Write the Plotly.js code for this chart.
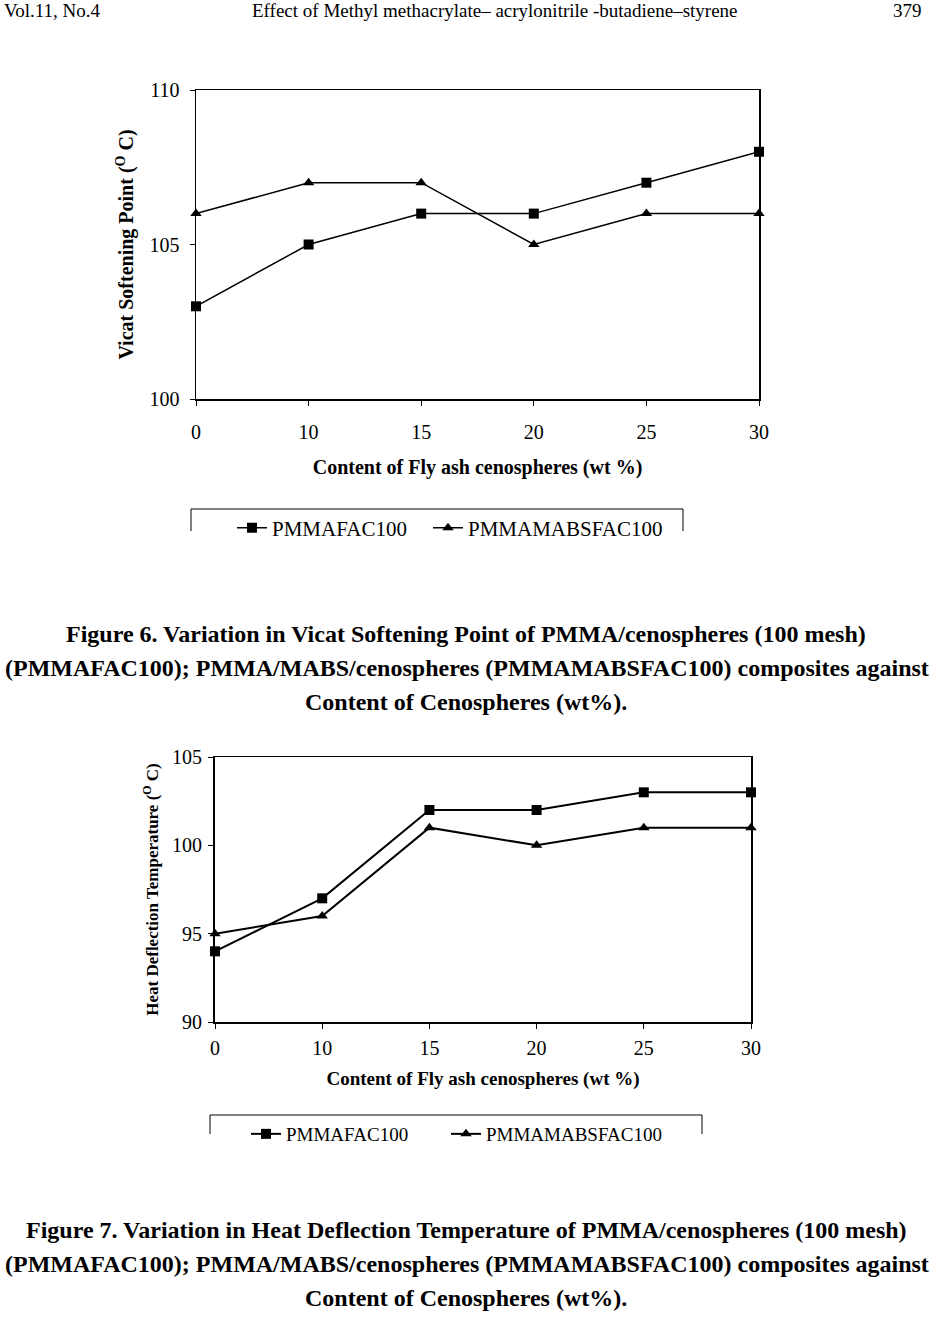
<!DOCTYPE html>
<html>
<head>
<meta charset="utf-8">
<script src="https://cdn.plot.ly/plotly-3.0.1.min.js"></script>
<style>
html,body{margin:0;padding:0;background:#fff;}
#chart{width:932px;height:1329px;}
</style>
</head>
<body>
<div id="chart"></div>
<script>
// ---- data ----
const contentLabels = ["0", "10", "15", "20", "25", "30"];
const vicatPMMAFAC100 = [103, 105, 106, 106, 107, 108];
const vicatPMMAMABSFAC100 = [106, 107, 107, 105, 106, 106];
const hdtPMMAFAC100 = [94, 97, 102, 102, 103, 103];
const hdtPMMAMABSFAC100 = [95, 96, 101, 100, 101, 101];
const seriesNames = ["PMMAFAC100", "PMMAMABSFAC100"];
const vicatTicks = [100, 105, 110];
const hdtTicks = [90, 95, 100, 105];

// ---- layout helpers (page pixels -> paper fractions) ----
const W = 932, H = 1329;
const px = x => x / W;
const py = y => 1 - y / H;
const SERIF = "Liberation Serif, Times New Roman, serif";

function trace(y, name, sym, xa, ya, lg, size, lw) {
  return {
    x: contentLabels, y: y, name: name, type: "scatter", mode: "lines+markers",
    xaxis: xa, yaxis: ya, legend: lg, cliponaxis: false, showlegend: true,
    line: {color: "#000", width: lw},
    marker: {symbol: sym, size: size, color: "#000"}
  };
}

const data = [
  trace(vicatPMMAFAC100, seriesNames[0], "square", "x", "y", "legend", 10, 1.5),
  trace(vicatPMMAMABSFAC100, seriesNames[1], "triangle-up", "x", "y", "legend3", 10, 1.5),
  trace(hdtPMMAFAC100, seriesNames[0], "square", "x2", "y2", "legend2", 10, 2),
  trace(hdtPMMAMABSFAC100, seriesNames[1], "triangle-up", "x2", "y2", "legend4", 10, 2)
];

const tickFont = {family: SERIF, size: 20, color: "#000"};
function bold(size) { return {family: SERIF, size: size, color: "#000", weight: "bold"}; }

function xAxis(dom, anchor, title, tsize, standoff, tsoff) {
  return {
    domain: dom, anchor: anchor, type: "category", range: [0, 5],
    showline: true, mirror: true, linecolor: "#000", linewidth: 1.5,
    ticks: "outside", ticklen: 5, tickcolor: "#000", tickwidth: 1,
    showgrid: false, zeroline: false, tickfont: tickFont,
    ticklabelstandoff: tsoff,
    title: {text: title, font: bold(tsize), standoff: standoff}
  };
}
function yAxis(dom, anchor, title, tsize, rng, tv, standoff, tsoff, lw) {
  return {
    domain: dom, anchor: anchor, range: rng, tickvals: tv,
    showline: true, mirror: true, linecolor: "#000", linewidth: lw,
    ticks: "outside", ticklen: 5, tickcolor: "#000", tickwidth: 1,
    showgrid: false, zeroline: false, tickfont: tickFont,
    ticklabelstandoff: tsoff,
    title: {text: title, font: bold(tsize), standoff: standoff}
  };
}
function legendAt(x, y, size) {
  return {orientation: "h", x: px(x), y: py(y), xanchor: "left", yanchor: "middle",
          font: {family: SERIF, size: size, color: "#000"}, bgcolor: "rgba(0,0,0,0)",
          itemwidth: 30, tracegroupgap: 0, visible: true};
}

const captionFont = bold(24);
function ann(text, x, y, xanchor, font) {
  return {text: text, x: px(x), y: py(y), xref: "paper", yref: "paper",
          xanchor: xanchor, yanchor: "middle", showarrow: false, font: font};
}
const headFont = {family: SERIF, size: 19, color: "#000"};

function boxPath(x0, y0, x1, y1) {
  return {type: "path", xref: "paper", yref: "paper",
          path: `M ${px(x0)} ${py(y1)} L ${px(x0)} ${py(y0)} L ${px(x1)} ${py(y0)} L ${px(x1)} ${py(y1)}`,
          line: {color: "#000", width: 1}};
}

const layout = {
  width: W, height: H, margin: {l: 0, r: 0, t: 0, b: 0},
  paper_bgcolor: "#fff", plot_bgcolor: "#fff",
  font: {family: SERIF, color: "#000"},
  showlegend: true,
  xaxis: xAxis([px(196), px(759)], "y", "Content of Fly ash cenospheres (wt %)", 20, 18, 9),
  yaxis: yAxis([py(399), py(90)], "x", "Vicat Softening Point (<sup>O</sup> C)", 20, [100, 110], vicatTicks, 10, 6, 1.5),
  xaxis2: xAxis([px(215), px(751)], "y2", "Content of Fly ash cenospheres (wt %)", 19, 14, 2),
  yaxis2: yAxis([py(1022), py(757)], "x2", "Heat Deflection Temperature (<sup>O</sup> C)", 17, [90, 105], hdtTicks, 9, 2, 2),
  legend: legendAt(232, 528, 21),
  legend3: legendAt(428, 528, 21),
  legend2: legendAt(246, 1134, 19),
  legend4: legendAt(446, 1134, 19),
  shapes: [boxPath(191, 509, 683, 531), boxPath(210, 1115, 702, 1134)],
  annotations: [
    ann("Vol.11, No.4", 2, 11, "left", headFont),
    ann("Effect of Methyl methacrylate\u2013 acrylonitrile -butadiene\u2013styrene", 250, 11, "left", headFont),
    ann("379", 924, 11, "right", headFont),
    ann("Figure 6. Variation in Vicat Softening Point of PMMA/cenospheres (100 mesh)", 466, 634, "center", captionFont),
    ann("(PMMAFAC100); PMMA/MABS/cenospheres (PMMAMABSFAC100) composites against", 467, 668, "center", captionFont),
    ann("Content of Cenospheres (wt%).", 466, 702, "center", captionFont),
    ann("Figure 7. Variation in Heat Deflection Temperature of PMMA/cenospheres (100 mesh)", 466, 1230, "center", captionFont),
    ann("(PMMAFAC100); PMMA/MABS/cenospheres (PMMAMABSFAC100) composites against", 467, 1264, "center", captionFont),
    ann("Content of Cenospheres (wt%).", 466, 1298, "center", captionFont)
  ]
};

Plotly.newPlot("chart", data, layout, {staticPlot: true, displayModeBar: false});
</script>
</body>
</html>
